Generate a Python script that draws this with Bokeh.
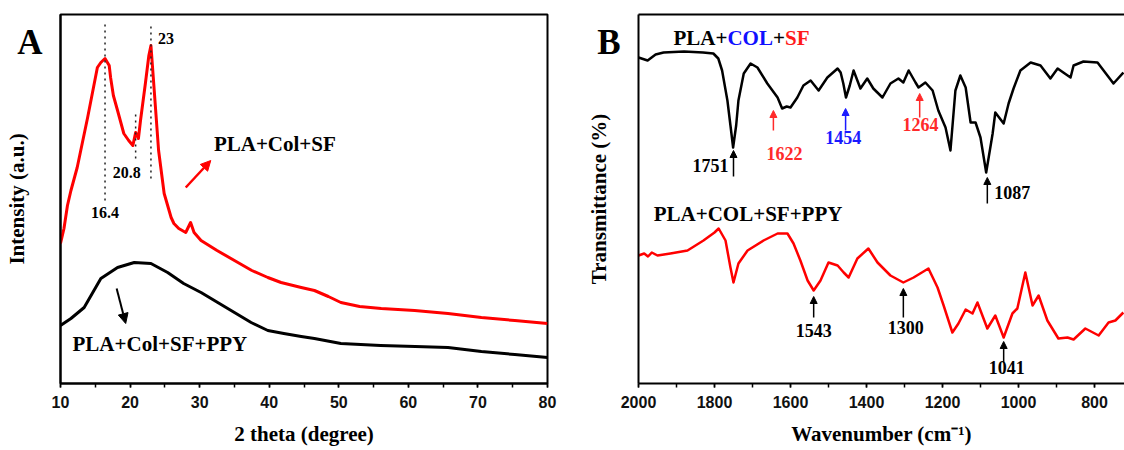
from bokeh.plotting import figure
from bokeh.models import (Range1d, SingleIntervalTicker, FixedTicker, Label, Arrow,
                          NormalHead, LinearAxis)
from bokeh.layouts import row
from bokeh.embed import file_html
from bokeh.resources import INLINE

# ---------------- Panel A : XRD ----------------
xrd_theta_sf = [10.0, 10.5, 11.0, 11.5, 12.4, 13.9, 15.3, 15.8, 16.4, 17.0, 17.2, 17.6, 18.2,
                19.1, 19.8, 20.4, 20.8, 21.2, 21.5, 22.2, 22.7, 23.0, 23.4, 24.1, 24.9, 25.9,
                26.3, 27.0, 28.0, 28.7, 29.2, 30.2, 32.5, 35.0, 37.5, 39.8, 41.7, 44.6, 46.5,
                48.5, 50.3, 53.0, 56.1, 60.9, 65.7, 70.5, 75.3, 80.0]
xrd_int_sf = [140, 155, 178, 193, 216, 266, 316, 321, 325, 318, 306, 288, 273,
              250, 243, 238, 251, 245, 263, 300, 328, 338, 300, 233, 190, 166,
              160, 155, 151, 161, 151, 143, 133, 123, 113, 106, 101, 96, 93,
              87, 81, 77, 75, 73, 70, 66, 63, 60]

xrd_theta_ppy = [10.0, 11.5, 13.4, 15.8, 18.2, 20.6, 23.0, 25.4, 27.7, 30.2, 32.6, 35.0,
                 37.4, 39.8, 42.1, 44.6, 46.5, 50.3, 56.0, 61.0, 65.7, 70.5, 75.3, 80.0]
xrd_int_ppy = [58, 65, 76, 105, 116, 121, 120, 111, 100, 91, 81, 71,
               61, 53, 50, 47, 45, 40, 38, 37, 36, 32, 29, 26]

xrd_peaks = [16.4, 20.8, 23.0]
xrd_peak_labels = ["16.4", "20.8", "23"]

# ---------------- Panel B : FTIR ----------------
ftir_wn_sf = [2000, 1976, 1955, 1934, 1880, 1830, 1803, 1790, 1780, 1766, 1758, 1751, 1743,
              1737, 1723, 1705, 1687, 1661, 1634, 1622, 1610, 1600, 1582, 1566, 1547, 1526,
              1503, 1476, 1468, 1461, 1454, 1444, 1434, 1416, 1398, 1382, 1358, 1337, 1316,
              1303, 1289, 1271, 1263, 1245, 1226, 1211, 1192, 1179, 1166, 1153, 1139, 1126,
              1113, 1100, 1085, 1068, 1061, 1039, 1026, 1013, 995, 968, 942, 916, 897, 882,
              863, 855, 829, 792, 766, 750, 724]
ftir_t_sf = [326, 323, 329, 331, 332, 331, 330, 325, 313, 283, 258, 236, 258,
             283, 310, 320, 316, 300, 286, 275, 277, 276, 286, 298, 303, 293,
             306, 315, 311, 300, 286, 298, 313, 295, 305, 295, 286, 300, 305,
             301, 313, 301, 296, 301, 293, 273, 256, 233, 293, 308, 296, 261,
             261, 246, 211, 250, 271, 260, 280, 295, 313, 321, 318, 305, 315, 311,
             306, 318, 322, 321, 308, 300, 311]

ftir_wn_ppy = [2000, 1985, 1975, 1965, 1950, 1916, 1871, 1829, 1800, 1789, 1771, 1758, 1750,
               1737, 1713, 1671, 1634, 1608, 1592, 1574, 1555, 1539, 1521, 1500, 1476, 1460,
               1447, 1424, 1395, 1371, 1337, 1303, 1276, 1237, 1213, 1197, 1174, 1158, 1139,
               1121, 1108, 1082, 1061, 1039, 1016, 1003, 982, 963, 947, 924, 895, 871, 855,
               824, 789, 763, 745, 724]
ftir_t_ppy = [128, 130, 127, 131, 128, 130, 133, 143, 151, 155, 143, 116, 101,
              120, 133, 143, 150, 150, 140, 123, 103, 93, 103, 121, 118, 111,
              106, 125, 135, 121, 108, 101, 106, 115, 96, 78, 51, 60, 74,
              70, 81, 55, 68, 46, 70, 75, 111, 78, 88, 63, 45, 46, 44,
              55, 48, 61, 63, 71]

PANEL_LETTER_Y = 341  # vertical position (data units) of the panel letters

SERIF = "Liberation Serif"
SANS = "Liberation Sans"


def style_x_axis(ax, ticker):
    ax.ticker = ticker
    ax.axis_line_width = 2
    ax.axis_line_color = "black"
    ax.major_tick_out = 4
    ax.major_tick_in = 0
    ax.minor_tick_out = 4
    ax.minor_tick_in = 0
    ax.major_tick_line_width = 1.5
    ax.minor_tick_line_width = 1.5
    ax.major_tick_line_color = "black"
    ax.minor_tick_line_color = "black"
    ax.major_label_text_font = SANS
    ax.major_label_text_font_style = "bold"
    ax.major_label_text_font_size = "16px"
    ax.major_label_text_color = "#111111"
    ax.major_label_standoff = 8
    ax.axis_label_text_font = SERIF
    ax.axis_label_text_font_style = "bold"
    ax.axis_label_text_font_size = "21px"
    ax.axis_label_text_color = "black"
    ax.axis_label_standoff = 11


def style_y_axis(ax, letter, label_standoff, letter_standoff):
    # the only "tick label" on this axis is the panel letter
    ax.ticker = FixedTicker(ticks=[PANEL_LETTER_Y])
    ax.major_label_overrides = {PANEL_LETTER_Y: letter}
    ax.major_label_text_font = SERIF
    ax.major_label_text_font_style = "bold"
    ax.major_label_text_font_size = "35px"
    ax.major_label_text_color = "black"
    ax.major_label_standoff = letter_standoff
    ax.axis_line_width = 2
    ax.axis_line_color = "black"
    ax.major_tick_out = 0
    ax.major_tick_in = 0
    ax.minor_tick_out = 0
    ax.minor_tick_in = 0
    ax.major_tick_line_color = None
    ax.minor_tick_line_color = None
    ax.axis_label_text_font = SERIF
    ax.axis_label_text_font_style = "bold"
    ax.axis_label_text_font_size = "21px"
    ax.axis_label_text_color = "black"
    ax.axis_label_standoff = label_standoff


def txt(p, x, y, text, size="16px", color="black", align="center", baseline="middle",
        xoff=0, style="bold"):
    p.add_layout(Label(x=x, y=y, text=text, text_font=SERIF, text_font_size=size,
                       text_font_style=style, text_color=color, text_align=align,
                       text_baseline=baseline, x_offset=xoff))


def arrow(p, x0, y0, x1, y1, color="black", width=1.5, size=7):
    p.add_layout(Arrow(end=NormalHead(size=size, fill_color=color, line_color=color,
                                      line_width=1),
                       x_start=x0, y_start=y0, x_end=x1, y_end=y1,
                       line_color=color, line_width=width))


# ================= Figure A =================
pA = figure(width=570, height=450, x_range=Range1d(10, 80), y_range=Range1d(0, 369),
            output_backend="svg", toolbar_location=None,
            min_border_left=60, min_border_right=23, min_border_top=14, min_border_bottom=67,
            background_fill_color="white", border_fill_color="white")
pA.grid.visible = False
pA.outline_line_color = "black"
pA.outline_line_width = 2
pA.outline_line_alpha = 1
style_x_axis(pA.xaxis[0], SingleIntervalTicker(interval=10, num_minor_ticks=2))
pA.xaxis[0].axis_label = "2 theta (degree)"
style_y_axis(pA.yaxis[0], "A", -15, 18)
pA.yaxis[0].axis_label = "Intensity (a.u.)"

pA.line(xrd_theta_sf, xrd_int_sf, line_color="#ff0000", line_width=3, line_join="round")
pA.line(xrd_theta_ppy, xrd_int_ppy, line_color="#000000", line_width=3, line_join="round")

# dotted guide lines at peaks
pA.segment(x0=xrd_peaks, y0=[183, 225, 205], x1=xrd_peaks, y1=[361, 273, 361],
           line_color="#222222", line_width=1.5, line_dash="2 4")
txt(pA, 16.4, 171, xrd_peak_labels[0], size="16px")
txt(pA, 20.8, 211, xrd_peak_labels[1], size="16px", xoff=-9)
txt(pA, 23.0, 345, xrd_peak_labels[2], size="16px", align="left", xoff=7)

txt(pA, 32.05, 240, "PLA+Col+SF", size="21px", align="left")
arrow(pA, 28.0, 196, 31.6, 223, color="#ff0000", width=2.5, size=10)
txt(pA, 11.73, 40, "PLA+Col+SF+PPY", size="21px", align="left")
arrow(pA, 18.07, 95, 19.37, 60, color="black", width=2, size=10)

# ================= Figure B =================
pB = figure(width=554, height=450, x_range=Range1d(2000, 721), y_range=Range1d(0, 369),
            output_backend="svg", toolbar_location=None,
            min_border_left=68, min_border_right=0, min_border_top=14, min_border_bottom=67,
            background_fill_color="white", border_fill_color="white")
pB.grid.visible = False
pB.outline_line_color = None
style_x_axis(pB.xaxis[0], SingleIntervalTicker(interval=200, num_minor_ticks=2))
pB.xaxis[0].axis_label = "Wavenumber (cm\u207b\u00b9)"
style_y_axis(pB.yaxis[0], "B", -17, 18)
pB.yaxis[0].axis_label = "Transmittance (%)"
top_ax = LinearAxis(ticker=FixedTicker(ticks=[]), axis_line_width=2, axis_line_color="black",
                    major_tick_out=0, major_tick_in=0, minor_tick_out=0, minor_tick_in=0,
                    major_label_text_font_size="0px")
pB.add_layout(top_ax, "above")

pB.line(ftir_wn_sf, ftir_t_sf, line_color="black", line_width=2.5, line_join="round")
pB.line(ftir_wn_ppy, ftir_t_ppy, line_color="#ff0000", line_width=2.5, line_join="round")

# title of upper curve, multi-coloured
txt(pB, 1908, 346, "PLA+", size="21px", align="left")
txt(pB, 1908, 346, "COL", size="21px", align="left", color="#1010ff", xoff=54)
txt(pB, 1908, 346, "+", size="21px", align="left", xoff=99.5)
txt(pB, 1908, 346, "SF", size="21px", align="left", color="#ff1a1a", xoff=111.5)

txt(pB, 1960, 170, "PLA+COL+SF+PPY", size="21px", align="left")

# peak markers, upper curve
arrow(pB, 1750, 207, 1750, 233)
txt(pB, 1750, 218, "1751", size="18px", align="right", xoff=-5)
arrow(pB, 1645, 253, 1645, 273, color="#ff2a2a")
txt(pB, 1616, 230, "1622", size="18px", color="#ff2a2a")
arrow(pB, 1455, 253, 1455, 275, color="#1a1aff")
txt(pB, 1461, 246, "1454", size="18px", color="#1a1aff")
arrow(pB, 1260, 266, 1260, 290, color="#ff2a2a")
txt(pB, 1258, 259, "1264", size="18px", color="#ff2a2a")
arrow(pB, 1082, 180, 1082, 206)
txt(pB, 1082, 191, "1087", size="18px", align="left", xoff=7)

# peak markers, lower curve
arrow(pB, 1539, 66, 1539, 87)
txt(pB, 1539, 53, "1543", size="18px")
arrow(pB, 1303, 66, 1303, 95)
txt(pB, 1297, 56, "1300", size="18px")
arrow(pB, 1039, 21, 1039, 42)
txt(pB, 1031, 16, "1041", size="18px")

layout = row(pA, pB)
open("out.html", "w").write(file_html(layout, INLINE))
